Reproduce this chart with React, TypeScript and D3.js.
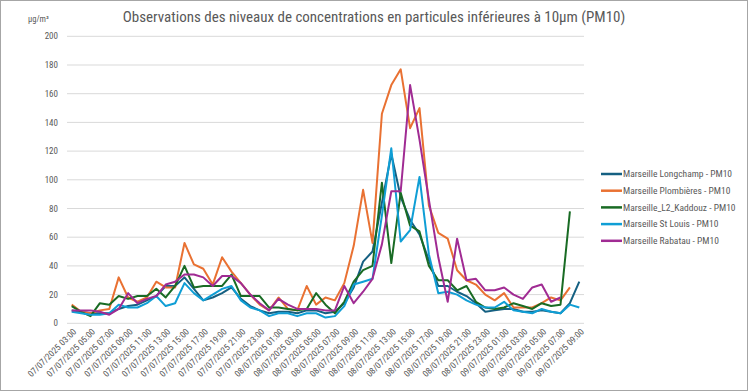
import React from "react";
import * as d3 from "d3";

// catégories horaires (du 07/07/2025 03:00 au 09/07/2025 09:00)
const categories = [
  "07/07/2025 03:00", "07/07/2025 04:00", "07/07/2025 05:00", "07/07/2025 06:00", "07/07/2025 07:00",
  "07/07/2025 08:00", "07/07/2025 09:00", "07/07/2025 10:00", "07/07/2025 11:00", "07/07/2025 12:00",
  "07/07/2025 13:00", "07/07/2025 14:00", "07/07/2025 15:00", "07/07/2025 16:00", "07/07/2025 17:00",
  "07/07/2025 18:00", "07/07/2025 19:00", "07/07/2025 20:00", "07/07/2025 21:00", "07/07/2025 22:00",
  "07/07/2025 23:00", "08/07/2025 00:00", "08/07/2025 01:00", "08/07/2025 02:00", "08/07/2025 03:00",
  "08/07/2025 04:00", "08/07/2025 05:00", "08/07/2025 06:00", "08/07/2025 07:00", "08/07/2025 08:00",
  "08/07/2025 09:00", "08/07/2025 10:00", "08/07/2025 11:00", "08/07/2025 12:00", "08/07/2025 13:00",
  "08/07/2025 14:00", "08/07/2025 15:00", "08/07/2025 16:00", "08/07/2025 17:00", "08/07/2025 18:00",
  "08/07/2025 19:00", "08/07/2025 20:00", "08/07/2025 21:00", "08/07/2025 22:00", "08/07/2025 23:00",
  "09/07/2025 00:00", "09/07/2025 01:00", "09/07/2025 02:00", "09/07/2025 03:00", "09/07/2025 04:00",
  "09/07/2025 05:00", "09/07/2025 06:00", "09/07/2025 07:00", "09/07/2025 08:00", "09/07/2025 09:00",
];

const longchamp = [9, 8, 7, 7, 7, 10, 12, 13, 16, 19, 26, 26, 32, 24, 16, 18, 21, 25, 17, 12, 9, 7, 8, 8, 7, 9, 9, 7, 8, 14, 25, 43, 50, 84, 118, 88, 72, 62, 44, 26, 26, 22, 19, 14, 8, 9, 10, 10, 8, 8, 9, 8, 7, 14, 29];
const plombieres = [13, 8, 7, 9, 10, 32, 18, 15, 18, 29, 25, 25, 56, 41, 38, 27, 46, 36, 28, 20, 13, 9, 18, 10, 9, 26, 13, 18, 16, 28, 54, 93, 56, 146, 166, 177, 136, 150, 82, 63, 59, 37, 30, 27, 20, 16, 21, 11, 11, 11, 14, 18, 16, 25, null];
const kaddouz = [12, 8, 5, 14, 13, 19, 17, 19, 19, 24, 18, 26, 40, 25, 26, 26, 26, 34, 19, 19, 19, 11, 11, 10, 9, 10, 21, 13, 7, 15, 29, 37, 40, 98, 42, 91, 68, 64, 40, 30, 30, 23, 26, 15, 11, 10, 11, 14, 12, 10, 14, 12, 13, 78, null];
const stLouis = [8, 7, 6, 6, 7, 13, 11, 11, 14, 19, 12, 14, 28, 21, 16, 20, 24, 26, 16, 11, 9, 5, 7, 7, 5, 7, 7, 4, 5, 12, 27, 29, 31, 75, 122, 57, 65, 102, 48, 21, 22, 20, 16, 13, 11, 11, 15, 9, 8, 7, 10, 8, 7, 13, 11];
const rabatau = [9, 9, 9, 8, 6, 10, 21, 14, 17, 19, 27, 29, 34, 34, 32, 26, 33, 33, 28, 20, 14, 9, 17, 13, 10, 10, 10, 9, 9, 26, 14, 22, 31, 55, 92, 92, 166, 128, 86, 46, 15, 59, 30, 31, 23, 23, 25, 20, 17, 25, 27, 15, 18, null, null];

const seriesNames = [
  "Marseille Longchamp - PM10",
  "Marseille Plombières - PM10",
  "Marseille_L2_Kaddouz  - PM10",
  "Marseille St Louis - PM10",
  "Marseille Rabatau - PM10",
];
const seriesValues = [longchamp, plombieres, kaddouz, stLouis, rabatau];
const colors = ["#156082", "#E97132", "#196B24", "#0F9ED5", "#A02B93"];
const yTicks = [0, 20, 40, 60, 80, 100, 120, 140, 160, 180, 200];

const W = 750;
const H = 392;
const font = "'Liberation Sans Narrow', 'Roboto Condensed', Roboto, sans-serif";
const grey = "#595959";

export default function App() {
  const x = d3.scaleBand<string>().domain(categories).range([67, 584]).padding(0);
  const y = d3.scaleLinear().domain([0, 200]).range([323.3, 36.3]);
  const cx = (c: string) => (x(c) as number) + x.bandwidth() / 2;

  const line = d3
    .line<number | null>()
    .defined((d) => d != null)
    .x((_, i) => cx(categories[i]))
    .y((d) => y(d as number));

  return (
    <>
      <style>{`body{margin:0}`}</style>
      <svg width={W} height={H} style={{ display: "block" }}>
        <rect x={0} y={0} width={W} height={H} fill="#fff" />
        <rect x={0.5} y={0.5} width={747} height={390} fill="none" stroke="#a6a6a6" />

        <text x={374} y={22} textAnchor="middle" fontFamily={font} fontSize={15} fill={grey}>
          Observations des niveaux de concentrations en particules inférieures à 10µm (PM10)
        </text>
        <text x={28} y={22} fontFamily={font} fontSize={8.5} fill={grey}>
          µg/m³
        </text>

        {yTicks.map((t) => (
          <g key={t}>
            <line x1={67} x2={584} y1={y(t)} y2={y(t)} stroke="#d9d9d9" strokeWidth={1} />
            <text x={58} y={y(t)} dy="0.35em" textAnchor="end" fontFamily={font} fontSize={9} fill={grey}>
              {t}
            </text>
          </g>
        ))}

        {categories.map((c, i) =>
          i % 2 === 0 ? (
            <text
              key={c}
              transform={`translate(${cx(c) + 3},${330}) rotate(-45)`}
              textAnchor="end"
              dy="0.35em"
              fontFamily={font}
              fontSize={9}
              fill={grey}
            >
              {c}
            </text>
          ) : null
        )}

        {seriesValues.map((vals, s) => (
          <path
            key={seriesNames[s]}
            d={line(vals) || ""}
            fill="none"
            stroke={colors[s]}
            strokeWidth={2}
            strokeLinejoin="round"
          />
        ))}

        {seriesNames.map((n, s) => (
          <g key={n} transform={`translate(601,${174 + s * 16.7})`}>
            <line x1={0} x2={21} y1={0} y2={0} stroke={colors[s]} strokeWidth={2.5} />
            <text x={22} y={0} dy="0.35em" fontFamily={font} fontSize={9.5} fill={grey}>
              {n}
            </text>
          </g>
        ))}
      </svg>
    </>
  );
}
